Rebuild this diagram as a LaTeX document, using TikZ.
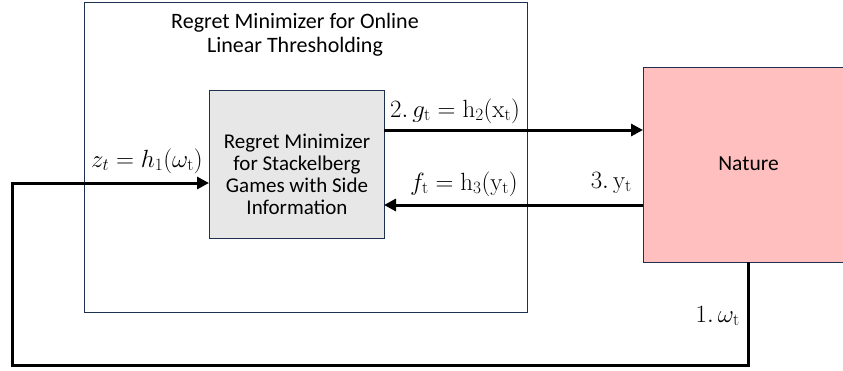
\documentclass[tikz,border=0pt]{standalone}
\usepackage[no-math]{fontspec}
\setmainfont{Carlito}
\usetikzlibrary{arrows.meta}
\definecolor{navy}{HTML}{1F2F4F}
\definecolor{boxgray}{HTML}{E7E7E7}
\definecolor{pink}{HTML}{FFBFBF}
\tikzset{
  frame/.style={draw=navy, line width=1.3pt},
  flow/.style={line width=3pt, -{Triangle[length=12pt,width=12pt]}},
  lbl/.style={font=\fontsize{23.5}{26}\selectfont, inner sep=0pt},
}
\begin{document}
\begin{tikzpicture}[x=1pt,y=-1pt]
\useasboundingbox (0,0) rectangle (843,370);
\node[frame, minimum width=443pt, minimum height=310pt, anchor=north west, inner sep=0pt] (outer) at (84,2) {};
\node[align=center, anchor=north, inner sep=0pt, font=\fontsize{22}{24}\selectfont] (title) at (295,13.5) {Regret Minimizer for Online\\Linear Thresholding};
\node[frame, fill=boxgray, minimum width=175pt, minimum height=148pt, anchor=north west, inner sep=0pt] (inner) at (209,90) {};
\node[align=center, anchor=north, inner sep=0pt, font=\fontsize{21}{22}\selectfont] (innertxt) at (297,134) {Regret Minimizer\\for Stackelberg\\Games with Side\\Information};
\node[frame, fill=pink, minimum width=204pt, minimum height=195pt, anchor=north west, inner sep=0pt] (nature) at (643,67) {};
\node[anchor=base, inner sep=0pt, font=\fontsize{21.5}{24}\selectfont] (naturetxt) at (748.5,170) {Nature};
\coordinate (n1) at (643,130);
\coordinate (i1) at (384,130);
\coordinate (n2) at (643,205);
\coordinate (i2) at (384,205);
\draw[flow] (i1) -- (n1);
\draw[flow] (n2) -- (i2);
\coordinate (nb) at (748,262);
\coordinate (c1) at (748,365);
\coordinate (c2) at (12,365);
\coordinate (c3) at (12,183);
\coordinate (i3) at (209,183);
\draw[flow, line join=miter] (nb) -- (c1) -- (c2) -- (c3) -- (i3);
\node[lbl, anchor=base west] (l2) at (390,117) {$2.\,g_{\mathrm{t}}=\mathrm{h}_2(\mathrm{x}_{\mathrm{t}})$};
\node[lbl, anchor=base east] (l3) at (518,190) {$f_{\mathrm{t}}=\mathrm{h}_3(\mathrm{y}_{\mathrm{t}})$};
\node[lbl, anchor=base east] (l4) at (632,188) {$3.\,\mathrm{y}_{\mathrm{t}}$};
\node[lbl, anchor=base west] (l1) at (91,167) {$z_t=h_1(\omega_{\mathrm{t}})$};
\node[lbl, anchor=base east] (l5) at (740,322) {$1.\,\omega_{\mathrm{t}}$};
\end{tikzpicture}
\end{document}
